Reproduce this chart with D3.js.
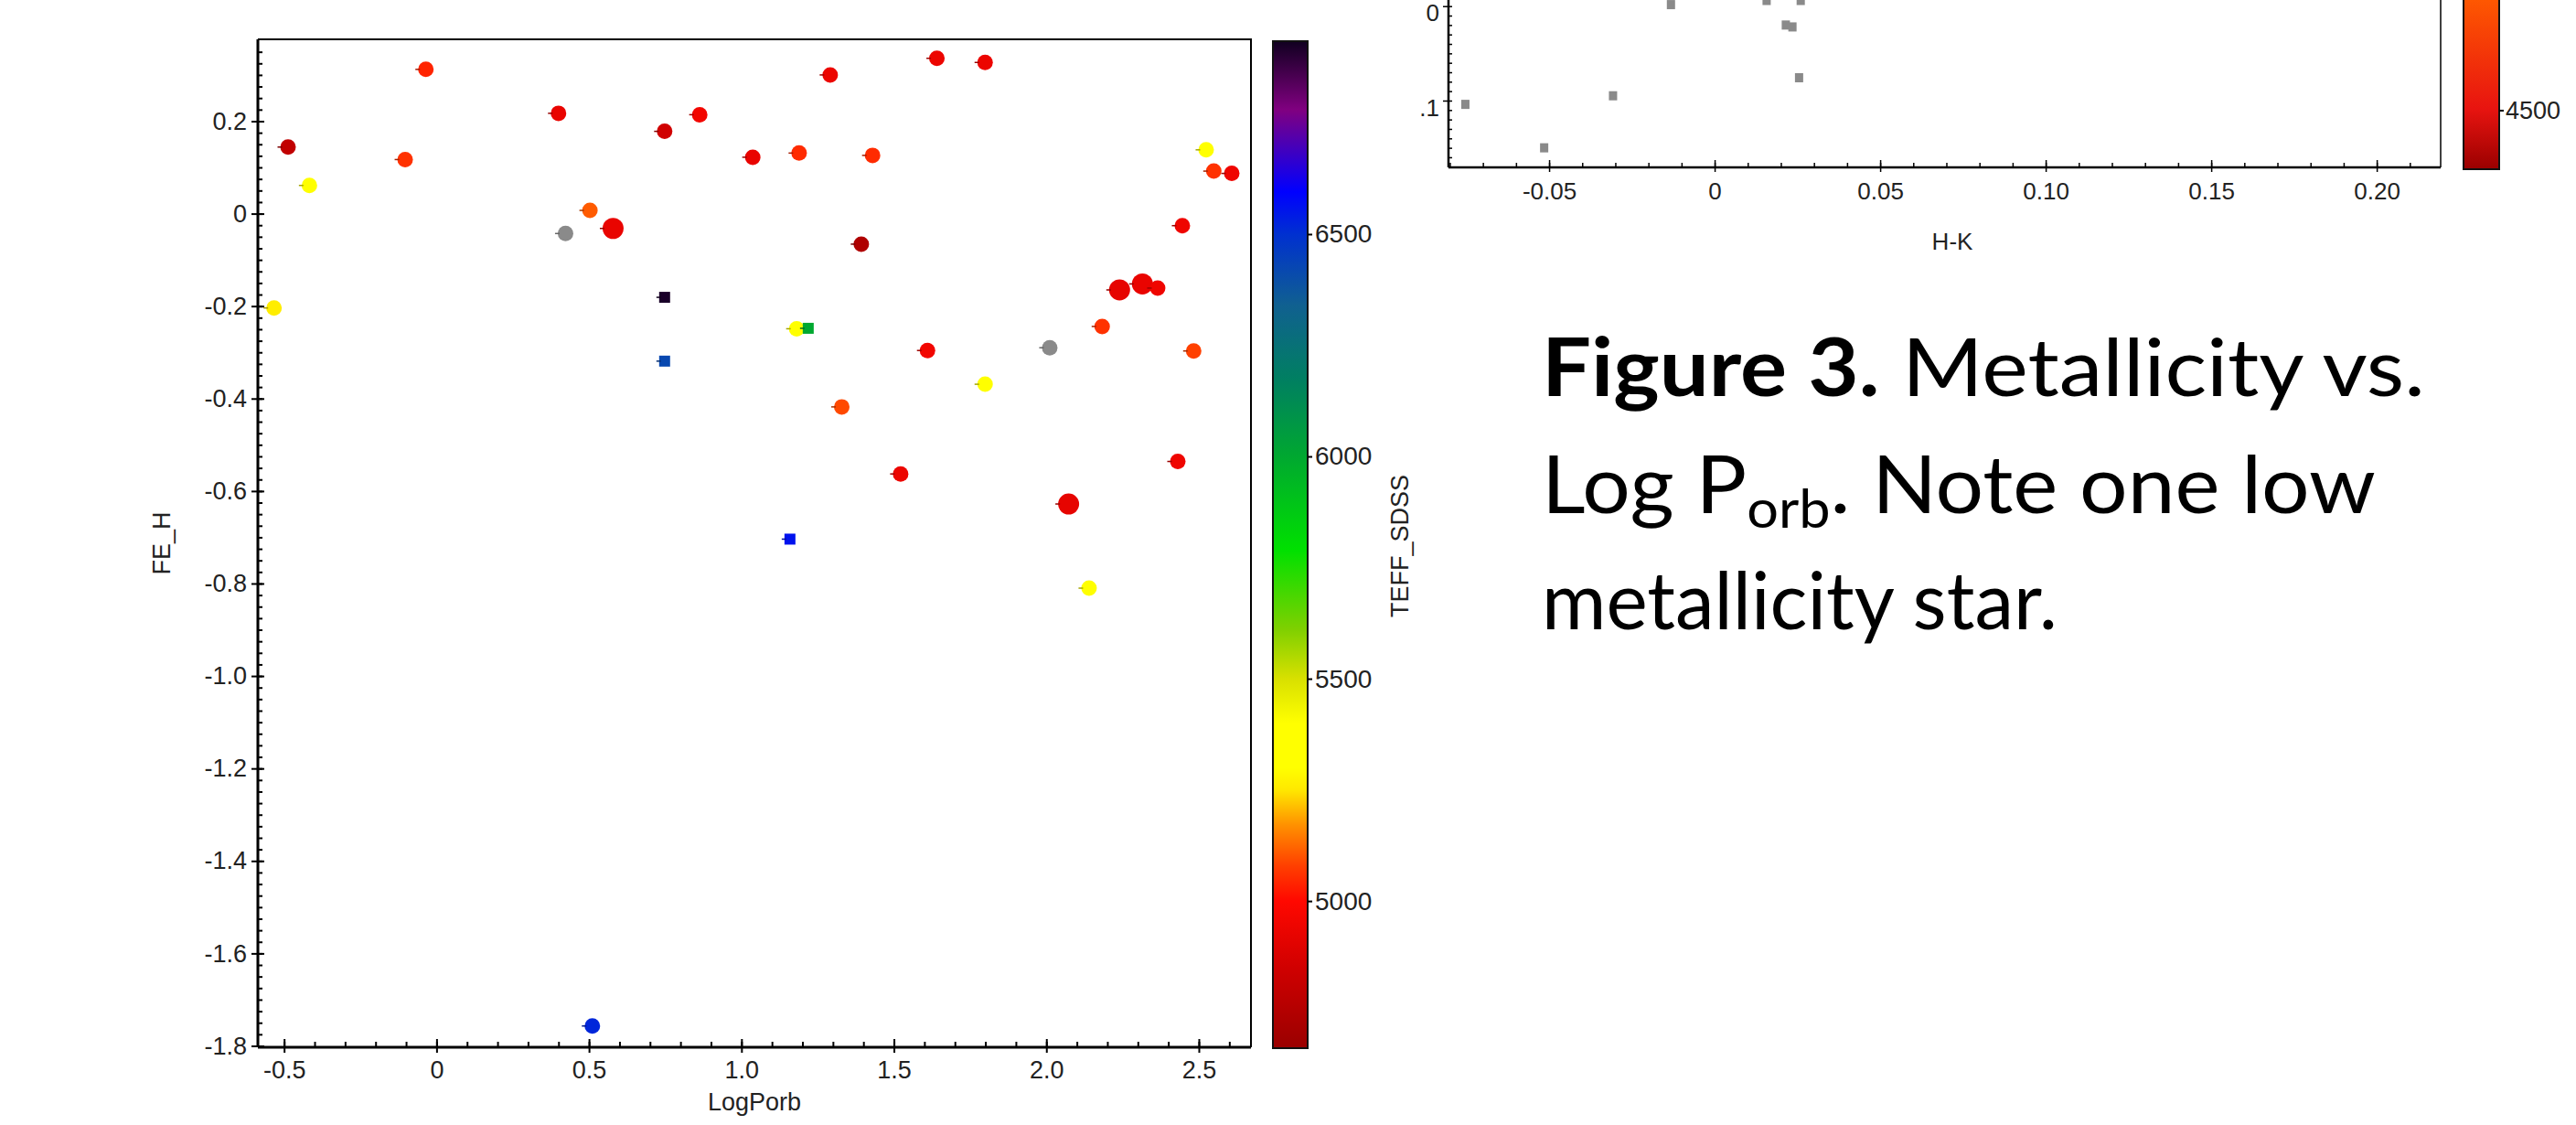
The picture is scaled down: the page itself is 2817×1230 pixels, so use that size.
<!DOCTYPE html>
<html><head><meta charset="utf-8">
<script src="https://cdn.jsdelivr.net/npm/d3@7/dist/d3.min.js"></script>
<style>html,body{margin:0;padding:0;background:#fff;overflow:hidden}</style>
</head><body>
<svg id="c" width="2817" height="1230" xmlns="http://www.w3.org/2000/svg"></svg>
<script>
// ---------------- DATA (main chart: FE_H vs LogPorb, colour = TEFF_SDSS) ----------------
const logPorb = [-0.487,-0.417,-0.533,-0.103,-0.035,0.400,0.423,0.503,0.579,0.748,0.863,0.748,0.748,1.037,
  1.189,1.291,1.430,1.641,1.799,1.393,1.181,1.219,1.610,1.799,1.329,1.522,1.159,0.511,2.011,2.183,
  2.240,2.315,2.365,2.483,2.446,2.524,2.549,2.608,2.431,2.073,2.140];
const feH = [0.144,0.061,-0.204,0.117,0.312,0.217,-0.043,0.007,-0.032,0.178,0.214,-0.181,-0.319,0.122,
  0.131,0.300,0.126,0.336,0.327,-0.066,-0.249,-0.248,-0.296,-0.369,-0.418,-0.563,-0.704,-1.757,-0.290,-0.244,
  -0.165,-0.152,-0.161,-0.297,-0.026,0.138,0.092,0.087,-0.536,-0.628,-0.810];
const teffSdss = [4800,5330,5260,5060,5040,4930,null,5110,4930,4850,4960,6920,6420,4930,
  5050,4940,5050,4940,4940,4740,5340,6000,4960,5350,5090,4940,6560,6520,null,5060,
  4920,4930,4950,5080,4950,5350,5060,4950,4950,4920,5360];
// marker class: "c" circle, "L" large circle, "s" small square
const markerClass = ["c","c","c","c","c","c","c","c","L","c","c","s","s","c",
  "c","c","c","c","c","c","c","s","c","c","c","c","s","c","c","c",
  "L","L","c","c","c","c","c","c","c","L","c"];

const xTickValues = [-0.5,0,0.5,1.0,1.5,2.0,2.5];
const xTickLabels = ["-0.5","0","0.5","1.0","1.5","2.0","2.5"];
const yTickValues = [0.2,0,-0.2,-0.4,-0.6,-0.8,-1.0,-1.2,-1.4,-1.6,-1.8];
const yTickLabels = ["0.2","0","-0.2","-0.4","-0.6","-0.8","-1.0","-1.2","-1.4","-1.6","-1.8"];
const teffTickValues = [5000,5500,6000,6500];
const teffTickLabels = ["5000","5500","6000","6500"];
const paletteTeff = [4669,4850,5000,5080,5170,5250,5300,5400,5500,5610,5790,6000,6170,6340,6500,6595,6780,6934];
const paletteColors = ["#9a0000","#d00000","#ff0800","#ff4000","#ff9000","#ffe800","#ffff00","#ffff00","#d8e000",
  "#80d000","#00e000","#00a830","#008060","#106090","#0030d0","#0000ff","#800080","#100020"];

// ---------------- DATA (partial second chart, top right: H-K) ----------------
const hkValues = [-0.0753,-0.0307,-0.0515,-0.0132,0.0215,0.0235,0.0255,0.0157,0.0260];
const hkYValues = [-0.104,-0.0949,-0.150,0.0016,-0.020,-0.022,-0.0758,0.006,0.006];
const hkXTickValues = [-0.05,0,0.05,0.10,0.15,0.20];
const hkXTickLabels = ["-0.05","0","0.05","0.10","0.15","0.20"];
const hkYTickValues = [0,-0.1];
const hkYTickLabels = ["0","-0.1"];
const cb2TickValues = [4500];
const cb2TickLabels = ["4500"];
const cb2Teff = [4350,4500,4780];
const cb2Colors = ["#9a0000","#e81410","#ff5a00"];

const captionBold = "Figure 3.";
const captionLines = [" Metallicity vs.", "Log P", "orb", ". Note one low", "metallicity star."];

// ---------------- DRAW ----------------
const svg = d3.select("#c");
const FONT = "'Liberation Sans', Arial, sans-serif";
const NODATA = "#8a8a8a";

// main plot frame
const M = {left:282, right:1368, top:43, bottom:1145};
const x = d3.scaleLinear().domain([-0.586, 2.671]).range([M.left, M.right]);
const y = d3.scaleLinear().domain([-1.803, 0.377]).range([M.bottom, M.top]);
const color = d3.scaleLinear().domain(paletteTeff).range(paletteColors).clamp(true);
const cbY = d3.scaleLinear().domain([4669, 6934]).range([1146, 45]);

// border (top + right)
svg.append("path").attr("d", `M${M.left},${M.top}H${M.right}V${M.bottom}`)
  .attr("fill","none").attr("stroke","#000").attr("stroke-width",2);

// minor ticks
const yMinor = d3.range(-1.8, 0.3701, 0.025);
const xMinor = d3.range(-0.5, 2.6501, 0.1);
svg.append("g").attr("transform",`translate(${M.left},0)`)
  .call(d3.axisLeft(y).tickValues(yMinor).tickSize(-5).tickFormat(""))
  .call(g=>g.select(".domain").remove())
  .selectAll("line").attr("stroke","#000").attr("stroke-width",2);
svg.append("g").attr("transform",`translate(0,${M.bottom})`)
  .call(d3.axisBottom(x).tickValues(xMinor).tickSize(-6).tickFormat(""))
  .call(g=>g.select(".domain").remove())
  .selectAll("line").attr("stroke","#000").attr("stroke-width",2);

// major axes
const yAx = svg.append("g").attr("transform",`translate(${M.left},0)`)
  .call(d3.axisLeft(y).tickValues(yTickValues).tickFormat((d,i)=>yTickLabels[i]).tickSizeInner(7).tickSizeOuter(0).tickPadding(5));
yAx.selectAll(".tick line").clone().attr("x2", 7);
const xAx = svg.append("g").attr("transform",`translate(0,${M.bottom})`)
  .call(d3.axisBottom(x).tickValues(xTickValues).tickFormat((d,i)=>xTickLabels[i]).tickSizeInner(6).tickSizeOuter(0).tickPadding(9));
xAx.selectAll(".tick line").clone().attr("y2", -9);
[yAx,xAx].forEach(g=>{
  g.select(".domain").attr("stroke","#000").attr("stroke-width",3);
  g.selectAll(".tick line").attr("stroke","#000").attr("stroke-width",2);
  g.selectAll("text").attr("font-family",FONT).attr("font-size",27).attr("fill","#222");
});
xAx.select(".domain").attr("d", `M${M.left},0H${M.right}`);
yAx.select(".domain").attr("d", `M0,${M.top}V${M.bottom}`);

// axis titles
svg.append("text").attr("x",(M.left+M.right)/2).attr("y",1214).attr("text-anchor","middle")
  .attr("font-family",FONT).attr("font-size",27).attr("fill","#222").text("LogPorb");
svg.append("text").attr("transform",`translate(186,${(M.top+M.bottom)/2}) rotate(-90)`).attr("text-anchor","middle")
  .attr("font-family",FONT).attr("font-size",27).attr("fill","#222").text("FE_H");

// points
const pts = logPorb.map((v,i)=>({x:v, y:feH[i], t:teffSdss[i], k:markerClass[i]}));
const radius = d3.scaleOrdinal().domain(["c","L","s"]).range([8.5,11.5,6]);
const gp = svg.append("g");
gp.selectAll("path").data(pts).join("path")
  .attr("transform", d=>`translate(${x(d.x)},${y(d.y)})`)
  .attr("d", d=> d.k==="s"
     ? d3.symbol(d3.symbolSquare, Math.pow(radius(d.k)*2,2))()
     : d3.symbol(d3.symbolCircle, Math.PI*radius(d.k)*radius(d.k))())
  .attr("fill", d=> d.t==null ? NODATA : color(d.t));
// small dark stub on the left of each marker, as in the picture
gp.selectAll("line").data(pts).join("line")
  .attr("x1", d=>x(d.x)-radius(d.k)-3).attr("x2", d=>x(d.x)-radius(d.k)+2)
  .attr("y1", d=>y(d.y)).attr("y2", d=>y(d.y))
  .attr("stroke", d=> d.t==null ? "#666" : d3.color(color(d.t)).darker(1.2)).attr("stroke-width",1.5);

// colour bar
const defs = svg.append("defs");
const grad = defs.append("linearGradient").attr("id","cbg").attr("x1",0).attr("x2",0).attr("y1",1).attr("y2",0);
paletteTeff.forEach((t,i)=>grad.append("stop").attr("offset",(t-4669)/(6934-4669)).attr("stop-color",paletteColors[i]));
svg.append("rect").attr("x",1392).attr("width",38).attr("y",cbY(6934)).attr("height",cbY(4669)-cbY(6934))
  .attr("fill","url(#cbg)").attr("stroke","#111").attr("stroke-width",2);
const cbAx = svg.append("g").attr("transform","translate(1430,0)")
  .call(d3.axisRight(cbY).tickValues(teffTickValues).tickFormat((d,i)=>teffTickLabels[i]).tickSizeInner(5).tickSizeOuter(0).tickPadding(3));
cbAx.select(".domain").remove();
cbAx.selectAll("line").attr("stroke","#000").attr("stroke-width",2);
cbAx.selectAll("text").attr("font-family",FONT).attr("font-size",28).attr("fill","#222");
svg.append("text").attr("transform","translate(1540,597) rotate(-90)").attr("text-anchor","middle")
  .attr("font-family",FONT).attr("font-size",27).attr("fill","#222").text("TEFF_SDSS");

// ---------------- partial H-K chart (cut off at the top of the slide) ----------------
const H = {left:1584, right:2669, top:0, bottom:183};
const hx = d3.scaleLinear().domain([-0.0804, 0.2193]).range([H.left, H.right]);
const hy = d3.scaleLinear().domain([-0.1707, 0.0065]).range([H.bottom, H.top]);
defs.append("clipPath").attr("id","hkclip").append("rect").attr("x",1553).attr("y",0).attr("width",1264).attr("height",1230);
const hg = svg.append("g").attr("clip-path","url(#hkclip)");
hg.append("path").attr("d",`M${H.right},${H.top}V${H.bottom}`).attr("stroke","#000").attr("stroke-width",1.5);
hg.append("g").attr("transform",`translate(${H.left},0)`)
  .call(d3.axisLeft(hy).tickValues(d3.range(-0.17,0.0061,0.01)).tickSize(-4).tickFormat(""))
  .call(g=>g.select(".domain").remove()).selectAll("line").attr("stroke","#000").attr("stroke-width",1.5);
hg.append("g").attr("transform",`translate(0,${H.bottom})`)
  .call(d3.axisBottom(hx).tickValues(d3.range(-0.08,0.2101,0.01)).tickSize(-5).tickFormat(""))
  .call(g=>g.select(".domain").remove()).selectAll("line").attr("stroke","#000").attr("stroke-width",1.5);
const hyAx = hg.append("g").attr("transform",`translate(${H.left},0)`)
  .call(d3.axisLeft(hy).tickValues(hkYTickValues).tickFormat((d,i)=>hkYTickLabels[i]).tickSizeInner(6).tickSizeOuter(0).tickPadding(4));
const hxAx = hg.append("g").attr("transform",`translate(0,${H.bottom})`)
  .call(d3.axisBottom(hx).tickValues(hkXTickValues).tickFormat((d,i)=>hkXTickLabels[i]).tickSizeInner(5).tickSizeOuter(0).tickPadding(12));
hxAx.selectAll(".tick line").clone().attr("y2",-8);
[hyAx,hxAx].forEach(g=>{
  g.select(".domain").attr("stroke","#000").attr("stroke-width",2.5);
  g.selectAll(".tick line").attr("stroke","#000").attr("stroke-width",1.5);
  g.selectAll("text").attr("font-family",FONT).attr("font-size",26).attr("fill","#222");
});
hyAx.selectAll("text").attr("dy","0.62em");
hxAx.select(".domain").attr("d",`M${H.left},0H${H.right}`);
hyAx.select(".domain").attr("d",`M0,${H.top}V${H.bottom}`);
hg.append("text").attr("x",2135).attr("y",273).attr("text-anchor","middle")
  .attr("font-family",FONT).attr("font-size",26).attr("fill","#222").text("H-K");
hg.selectAll("rect.hp").data(hkValues.map((v,i)=>({x:v,y:hkYValues[i]}))).join("rect").attr("class","hp")
  .attr("x",d=>hx(d.x)-4.5).attr("y",d=>hy(d.y)-5).attr("width",9).attr("height",10).attr("fill",NODATA);

// second colour bar
const cb2Y = d3.scaleLinear().domain([4350,4780]).range([185,0]);
const color2 = d3.scaleLinear().domain(cb2Teff).range(cb2Colors);
const grad2 = defs.append("linearGradient").attr("id","cbg2").attr("x1",0).attr("x2",0).attr("y1",1).attr("y2",0);
cb2Teff.forEach((t,i)=>grad2.append("stop").attr("offset",(t-4350)/(4780-4350)).attr("stop-color",color2(t)));
svg.append("rect").attr("x",2694).attr("width",39).attr("y",cb2Y(4780)-5).attr("height",cb2Y(4350)-cb2Y(4780)+5)
  .attr("fill","url(#cbg2)").attr("stroke","#111").attr("stroke-width",2);
const cb2Ax = svg.append("g").attr("transform","translate(2733,0)")
  .call(d3.axisRight(cb2Y).tickValues(cb2TickValues).tickFormat((d,i)=>cb2TickLabels[i]).tickSizeInner(5).tickSizeOuter(0).tickPadding(2));
cb2Ax.select(".domain").remove();
cb2Ax.selectAll("line").attr("stroke","#000").attr("stroke-width",2);
cb2Ax.selectAll("text").attr("font-family",FONT).attr("font-size",27).attr("fill","#222");

// ---------------- caption ----------------
const CAP = "Lato, 'Open Sans', sans-serif";
const capX = 1686, capSize = 88;
const l1 = svg.append("text").attr("x",capX).attr("y",433).attr("font-family",CAP).attr("font-size",capSize).attr("fill","#000");
l1.append("tspan").attr("font-weight","bold").text(captionBold);
l1.append("tspan").text(captionLines[0]);
const l2 = svg.append("text").attr("x",capX).attr("y",561).attr("font-family",CAP).attr("font-size",capSize).attr("fill","#000");
l2.append("tspan").text(captionLines[1]);
l2.append("tspan").attr("font-size",capSize*0.66).attr("dy",16).text(captionLines[2]);
l2.append("tspan").attr("dy",-16).text(captionLines[3]);
const l3 = svg.append("text").attr("x",capX).attr("y",688).attr("font-family",CAP).attr("font-size",capSize).attr("fill","#000")
  .text(captionLines[4]);
// stretch each caption line horizontally to the width it has on the slide
[[l1,966],[l2,912],[l3,564]].forEach(([t,w])=>{
  const bb = t.node().getBBox();
  const s = w / bb.width;
  t.attr("transform",`translate(${capX},0) scale(${s},1) translate(${-capX},0)`);
});
</script>
</body></html>
